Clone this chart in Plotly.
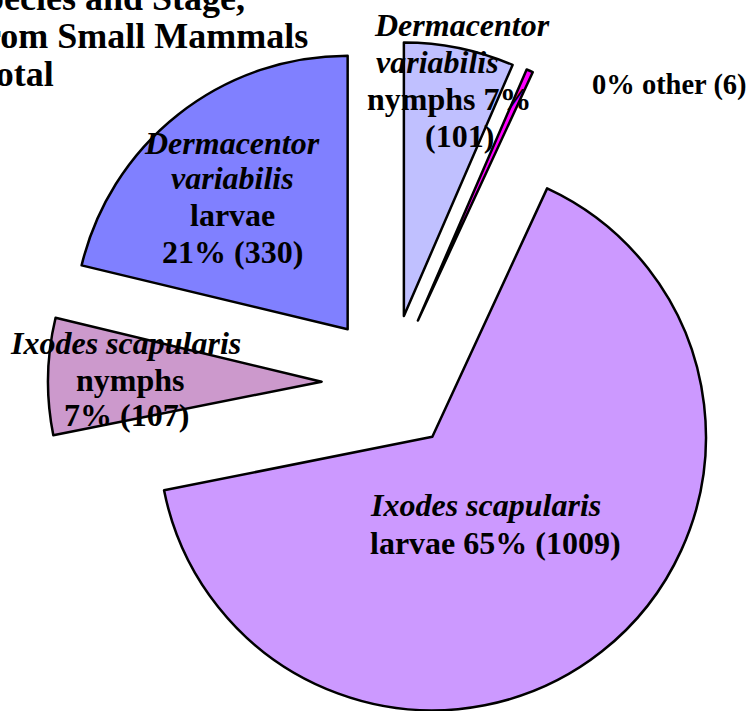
import plotly.graph_objects as go


# =========================================================
# Data
# =========================================================

species = [
    "Dermacentor variabilis",
    "other",
    "Ixodes scapularis",
    "Ixodes scapularis",
    "Dermacentor variabilis"
]

stages = ["nymphs", "", "larvae", "nymphs", "larvae"]

counts = [101, 6, 1009, 107, 330]

title_lines = ["Species and Stage,", "from Small Mammals", "Total"]

total = sum(counts)
percents = [f"{c / total * 100:.0f}%" for c in counts]


# =========================================================
# Layout settings
# =========================================================

W, H = 750, 725
FONT = "Liberation Serif, Times New Roman, serif"

colors = ["#C0C0FF", "#FF00FF", "#CC99FF", "#CC99CC", "#8080FF"]
pull = 0.25

# pie centre and outer (pulled) radius in pixels
cx, cy, R = 390, 383, 342

# label lines: slice index, template, italic, x, y, xanchor, size
label_lines = [
    (0, "{genus}", True, 462, 25, "center", 32),
    (0, "{epithet}", True, 437, 62, "center", 32),
    (0, "{stage} {pct}", False, 449, 99, "center", 32),
    (0, "{n}", False, 459, 136, "center", 32),
    (1, "{pct} {sp} {n}", False, 669, 85, "center", 28.5),
    (2, "{sp}", True, 368, 505, "left", 32),
    (2, "{stage} {pct} {n}", False, 368, 543, "left", 32),
    (3, "{sp}", True, 125, 343, "center", 32),
    (3, "{stage}", False, 130, 380, "center", 32),
    (3, "{pct} {n}", False, 126, 415, "center", 32),
    (4, "{genus}", True, 232, 143, "center", 32),
    (4, "{epithet}", True, 232, 178, "center", 32),
    (4, "{stage}", False, 232, 215, "center", 32),
    (4, "{pct} {n}", False, 233, 252, "center", 32),
]

# title lines: right edge x, middle y
title_pos = [(247, -2), (310, 36), (56, 74)]


def px(x, y):
    return x / W, 1 - y / H


def fields(i):
    genus, _, epithet = species[i].partition(" ")
    return dict(
        genus=genus,
        epithet=epithet,
        sp=species[i],
        stage=stages[i],
        pct=percents[i],
        n=f"({counts[i]})"
    )


# =========================================================
# Figure
# =========================================================

fig = go.Figure(
    go.Pie(
        labels=[f"{s} {st}".strip() for s, st in zip(species, stages)],
        values=counts,
        sort=False,
        direction="clockwise",
        rotation=0,
        pull=[pull] * len(counts),
        marker=dict(colors=colors, line=dict(color="black", width=2.5)),
        textinfo="none",
        hoverinfo="label+value+percent",
        domain=dict(
            x=[(cx - R) / W, (cx + R) / W],
            y=[1 - (cy + R) / H, 1 - (cy - R) / H]
        )
    )
)

annotations = []

for i, tpl, italic, x, y, anchor, size in label_lines:
    text = tpl.format(**fields(i)).strip()
    text = f"<b><i>{text}</i></b>" if italic else f"<b>{text}</b>"
    ax, ay = px(x, y)
    annotations.append(dict(
        x=ax, y=ay, xref="paper", yref="paper",
        text=text, showarrow=False,
        xanchor=anchor, yanchor="middle",
        font=dict(family=FONT, size=size, color="black")
    ))

for line, (x, y) in zip(title_lines, title_pos):
    ax, ay = px(x, y)
    annotations.append(dict(
        x=ax, y=ay, xref="paper", yref="paper",
        text=f"<b>{line}</b>", showarrow=False,
        xanchor="right", yanchor="middle",
        font=dict(family=FONT, size=36, color="black")
    ))

fig.update_layout(
    width=W,
    height=H,
    margin=dict(l=0, r=0, t=0, b=0),
    paper_bgcolor="white",
    showlegend=False,
    annotations=annotations
)

# drop the default page margin so the chart sits at the window corner
fig.write_html(
    "out.html",
    config={"displayModeBar": False},
    post_script="document.body.style.margin = '0';"
)
